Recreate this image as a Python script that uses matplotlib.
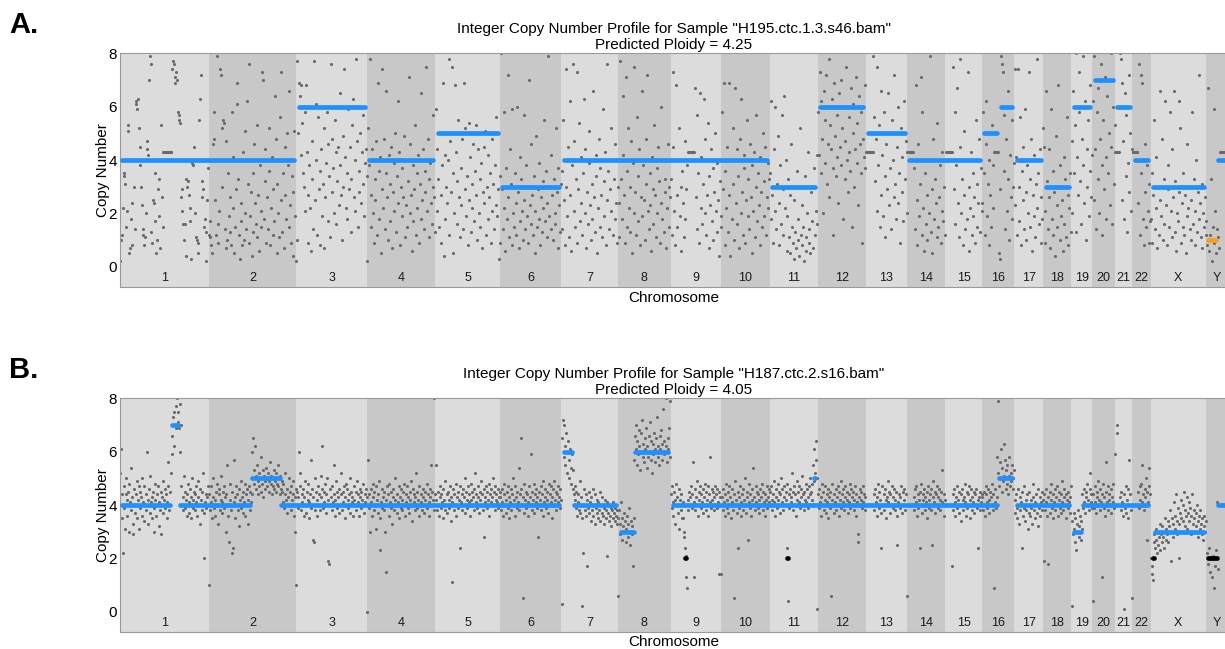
import numpy as np
import matplotlib
matplotlib.use('Agg')
import matplotlib.pyplot as plt

plt.rcParams['font.family'] = ['Liberation Sans', 'DejaVu Sans']

# ---------------- chromosome layout (hg19, Mb) ----------------
chrom_names = ['1', '2', '3', '4', '5', '6', '7', '8', '9', '10', '11', '12', '13', '14',
               '15', '16', '17', '18', '19', '20', '21', '22', 'X', 'Y']
chrom_len_mb = [249.25, 243.2, 198.0, 191.15, 180.9, 171.1, 159.1, 146.4, 141.2, 135.5,
                135.0, 133.9, 115.2, 107.3, 102.5, 90.4, 81.2, 78.1, 59.1, 63.0, 48.1,
                51.3, 155.3, 59.4]

# ---------------- panel A bin copy numbers (x10), evenly spaced along each chromosome ----------------
a_1 = [2,10,12,22,34,35,31,15,21,51,53,5,7,18,24,8,40,30,14,
       62,61,59,63,52,45,38,30,23,14,12,8,11,20,47,44,42,70,79,76,13,9,25,24,35,17,5,10,29,33,19,7,53,26,15,
       43,43,43,43,43,43,43,43,43,43,43,
       74,77,76,71,69,73,70,58,57,55,54,26,29,21,16,10,16,4,33,30,32,27,17,22,3,39,38,40,45,20,11,10,9,5,55,63,72,26,32,29,15,18,2,13,25,37,12]
a_2 = [17,11,8,5,46,48,58,25,12,79,9,16,21,74,72,30,52,55,54,14,7,47,10,35,19,13,26,8,58,41,
       22,5,15,29,69,61,33,12,3,24,17,8,43,10,51,20,14,62,31,9,
       76,19,28,4,35,13,46,24,16,53,11,27,6,38,21,15,73,70,18,44,
       32,9,26,14,52,36,8,22,41,12,29,17,64,48,5,31,20,11,56,25,
       73,13,35,7,45,27,18,50,38,15,66,23,9,34,4,28,51,19,2]
a_3 = [77,10,50,69,64,42,68,54,35,30,21,58,68,43,9,27,38,22,6,47,33,14,77,25,61,40,12,56,29,36,
       8,44,19,31,52,7,26,39,58,17,46,34,11,76,28,48,37,20,55,43,16,32,45,23,65,38,27,10,49,30,
       74,41,22,35,18,59,29,45,13,33,53,63,26,40,21,78,47,15,36,28,50,24,43,31,57,19,39,44,34]
a_4 = [2,52,38,78,15,27,44,20,9,33,25,47,12,69,36,18,41,5,29,74,22,48,14,35,66,26,10,42,31,17,
       45,7,28,39,21,50,13,34,24,62,43,8,30,19,37,26,49,11,23,40,15,32,71,20,46,27,6,38,17,29,
       53,12,35,22,42,9,31,18,65,25,44,14,36,28,75,21,48,11,33,39,24,16,57,30,26,13]
a_5 = [59,44,21,33,15,50,27,9,38,69,4,42,18,30,24,40,78,12,47,28,75,35,5,20,68,43,16,32,55,26,
       11,37,23,48,14,69,29,52,19,34,8,25,54,41,13,31,22,46,17,36,27,53,10,44,20,33,15,39,7,28,
       45,24,51,12,30,18,42,26,35,9,21,48,31,14,38,23,56,19,29,3,34]
a_6 = [9,80,29,14,58,22,6,37,18,72,26,11,44,31,8,59,20,15,35,24,12,60,28,7,41,17,33,21,10,57,
       25,14,38,19,30,9,70,23,16,46,27,12,34,5,21,49,15,29,18,39,8,26,13,32,22,55,17,36,11,24,
       79,19,30,14,42,27,10,33,20,16,52,28,7,37,23,13,31]
a_7 = [36,14,55,25,8,74,30,19,45,11,62,27,6,38,76,21,47,15,33,73,9,29,54,17,41,24,12,35,63,20,
       44,7,28,16,39,51,23,10,31,18,66,26,13,42,34,5,22,48,15,37,27,11,59,32,19,43,8,25,76,36,
       14,29,52,21,40,12,33,18,46,24,9,30]
a_8 = [24,11,77,33,18,64,42,27,9,71,36,15,52,22,30,13,47,5,39,20,75,28,12,56,34,17,44,8,26,66,
       19,38,25,10,48,31,72,21,14,35,23,6,41,29,16,53,27,11,37,20,45,32,9,24,60,18,40,13,28,33,
       7,22,46,15,30,26]
a_9 = [33,12,73,45,21,8,68,27,15,40,52,19,30,6,36,24,11,47,18,29,38,
       43,43,43,43,43,43,43,43,43,
       67,26,14,57,35,9,65,22,41,16,31,63,20,48,12,27,54,34,7,23,44,17,37,10,28,50,21,13,39,25,4,32,19]
a_10 = [15,58,29,69,8,36,22,45,13,69,27,4,40,18,52,31,10,67,24,44,16,34,7,48,20,63,28,12,42,37,
        9,25,55,19,33,14,46,26,5,38,21,43,11,30,57,17,35,23,8,41,28,15,50,32,19,45,12,26,39,22,33]
a_11 = [35,18,62,27,9,44,21,60,14,31,49,24,8,38,16,57,29,12,64,22,40,6,19,33,11,27,5,46,15,9,
        25,3,13,7,36,18,10,4,52,12,8,23,15,2,34,11,6,20,43,9,14,5,28,17,30,7,37,12,21,16,42]
a_12 = [58,42,73,35,62,48,20,66,39,55,72,31,46,78,26,53,44,63,37,12,69,49,34,57,41,24,65,45,38,70,
        52,18,60,33,47,75,40,28,56,43,36,67,15,50,61,30,44,71,39,54,23,64,46,35,58,9,48,41,68,37]
a_13 = [43,43,43,43,43,43,43,43,43,
        79,56,32,48,21,75,38,53,15,27,66,42,19,58,34,11,46,29,65,23,50,37,14,55,40,26,72,31,18,45,
        60,24,35,9,52,28,41,17,62,33,47,20]
a_14 = [43,43,43,43,43,43,43,43,
        37,14,68,25,8,46,19,31,71,12,58,22,6,35,16,27,10,40,20,79,13,29,5,48,18,33,24,11,54,15,
        26,38,9,21,43,17,30,12]
a_15 = [43,43,43,43,43,43,43,43,43,
        75,29,58,16,38,67,24,11,45,78,20,33,8,51,27,14,40,18,73,30,6,22,43,12,35,19,26,9,55,31,
        15,24,48,13,37,21]
a_16 = [24,58,35,12,46,62,19,31,8,40,27,15,53,22,38,43,43,43,43,43,43,5,3,29,79,76,73,57,36,14,
        48,21,33,66,10,42,26,55,18,30,39]
a_17 = [74,23,41,12,74,30,17,56,8,36,25,45,14,59,28,10,38,20,73,33,15,48,6,27,19,42,11,31,78,22,
        35,16,44,9,26,18,52]
a_18 = [45,21,9,66,32,14,44,26,7,59,18,36,12,28,4,49,23,15,68,30,10,38,19,25,6,41,16,33,11,56,
        27,8,22,35,13]
a_19 = [47,20,66,35,53,13,80,41,27,73,58,32,16,48,79,38,24,62,10,44,30,55,19,36,68,26,42]
a_20 = [62,25,79,44,14,58,33,67,20,48,76,38,12,55,29,71,41,18,64,35,50,23,80,45,16,60,31,53]
a_21 = [43,43,43,43,43,43,80,78,25,69,47,18,65,34,57,13,39,72,28,50,21,44]
a_22 = [43,43,43,43,43,43,43,24,76,12,72,35,69,18,8,46,28,15,38,21,9,31,17]
a_X = [18,35,9,27,55,14,22,41,7,30,12,66,25,19,48,10,33,16,62,23,8,29,38,15,58,21,11,44,26,66,
       13,32,6,20,17,62,28,52,9,24,15,35,12,27,5,19,46,22,30,14,10,25,58,16,33,8,21,40,13,28,
       18,72,24,11,31,7,20,15,26,12]
a_Y = [17,8,67,6,12,33,2,15,9,59,21,5,14,11,7,43,43,43,43,43,43,43,43,43]

# ---------------- panel B bin copy numbers (x10) ----------------
b_1 = [52,61,44,35,22,47,39,31,44,50,42,36,45,30,48,41,38,54,43,33,29,46,40,37,44,49,35,42,47,31,
       39,45,43,50,36,41,34,47,40,44,38,60,42,33,46,37,51,41,35,43,45,30,39,48,42,36,44,40,47,32,
       41,38,45,29,43,49,37,42,46,39,44,35,41,56,47,38,40,45,
       52,66,59,73,75,62,70,77,69,80,71,75,69,78,60,70,
       47,40,43,38,51,45,39,42,36,44,48,41,37,46,43,35,50,42,39,45,44,38,47,41,36,43,49,40,33,46,
       42,38,45,52,20,37,41,44,39,43,47,40,10]
b_2 = [44,38,41,47,35,43,50,39,42,36,45,48,40,33,44,46,38,42,51,37,41,45,39,47,43,30,44,55,40,36,
       26,42,48,38,22,45,24,41,57,43,35,47,40,44,38,46,32,42,49,39,43,37,45,41,48,36,44,40,46,33,
       42,47,38,45,41,44,
       60,65,53,48,62,51,46,55,49,44,52,47,50,45,58,48,53,43,51,49,46,54,50,47,52,45,49,56,48,51,
       44,50,47,53,46,49,52,45,48,55,47,50,44,51,46,49,
       45,41,48,39,44,52,42,37,46,43,50,40,45,38,47,42,44,49,36,43,30,46]
b_3 = [10,45,39,43,60,47,52,38,44,41,46,36,43,49,40,37,45,42,48,35,41,44,57,39,46,27,43,26,50,38,
       45,42,36,47,40,44,38,51,43,46,62,39,45,41,48,37,44,50,42,19,18,40,46,43,38,47,41,55,44,36,
       42,49,45,39,43,37,46,40,52,44,38,45,41,47,35,43,48,40,46,42,39,44,50,37,45,41,43,36,47,42,
       40,45,38,49,44,41,36,46,43,39,45,42,48,40,37,44,41,46,43]
b_4 = [0,57,44,39,30,46,41,36,48,43,38,45,40,31,47,42,37,44,49,35,23,41,46,39,43,38,45,30,42,15,
       47,40,44,36,48,41,39,45,33,43,46,38,42,50,40,37,44,41,47,35,43,39,46,42,38,45,40,48,36,44,
       41,47,39,43,37,45,42,49,40,34,46,41,44,38,43,52,39,45,42,36,47,40,44,41,38,46,43,37,45,42,
       40,48,39,44,41,36,46,43,55,40,45,42,38,80,44]
b_5 = [55,42,38,45,40,36,47,43,39,44,41,35,46,42,38,49,40,44,37,45,42,39,47,34,43,41,11,46,38,44,
       40,48,36,43,45,39,42,24,47,41,44,38,46,40,43,50,37,45,42,39,47,41,44,36,48,42,45,40,43,38,
       46,52,41,44,39,47,43,37,45,42,49,40,44,38,46,28,43,41,47,39,45,42,48,36,44,41,46,43,50,40,
       45,38,47,42,44,41,39,46,43,45]
b_6 = [43,38,46,41,36,44,48,40,42,37,45,39,47,43,35,41,46,38,44,50,40,42,36,47,43,39,45,41,54,38,
       44,46,65,40,5,43,37,48,42,45,39,44,41,36,47,43,40,59,38,45,42,48,37,44,41,46,39,43,28,40,
       45,42,47,38,44,36,49,41,43,46,39,42,45,37,48,40,44,41,47,35,43,46,40,49,42,45,38,44,41,47,
       43,39,46,42]
b_7 = [3,65,72,58,70,62,55,67,60,52,64,57,50,61,54,48,59,46,53,44,42,47,39,45,36,41,44,38,49,37,
       43,35,2,22,46,40,38,44,36,42,17,39,45,37,41,34,43,38,46,36,40,33,44,39,37,42,35,41,38,45,
       34,40,37,43,36,39,33,42,38,35,41,21,37,34,40,36,39,32,38,35,41,37,34,39,36,33,38,35]
b_8 = [6,38,33,29,41,35,27,32,37,30,34,26,31,36,28,33,39,30,25,34,29,32,17,35,
       57,66,61,70,55,64,59,68,62,53,67,60,72,58,63,56,65,61,69,54,62,58,66,60,71,57,64,52,63,59,
       67,61,56,65,60,73,58,62,55,66,61,68,57,63,76,59,64,60,80,62,56,65,61,69,58,79]
b_9 = [44,39,47,41,36,45,42,33,48,40,43,37,46,31,42,38,44,35,41,
       35,30,28,24,21,13,9,42,38,
       45,40,43,47,39,44,56,13,41,46,38,43,49,40,36,45,42,47,39,44,41,37,46,43,48,40,45,38,42,47,
       36,44,41,58,39,46,42,45,38,43,47,40,44,39,46,41,14,45,43,40]
b_10 = [14,43,38,46,41,36,44,48,39,42,45,37,47,40,43,35,46,41,38,5,44,49,40,42,37,24,45,39,43,47,
        36,41,44,38,46,42,50,40,37,45,43,27,48,41,39,44,36,46,42,54,40,43,38,47,41,45,39,44,37,42,
        46,40,43,48,38,45,41,36,44,42,47,39,43,41,46]
b_11 = [45,40,47,42,38,44,49,41,36,46,43,39,48,42,45,37,44,50,41,46,38,43,47,40,45,42,24,48,4,44,
        39,46,41,43,52,38,45,47,40,44,36,49,42,45,41,47,39,43,46,40,51,44,38,45,42,48,41,46,43,39,
        47,44,50,45,42,48,55,49,61,52,64,57,50,1]
b_12 = [44,39,46,41,36,43,48,40,45,38,42,47,37,44,41,35,46,43,39,45,6,42,48,40,37,44,41,46,38,43,
        47,40,45,36,42,49,39,44,41,46,38,43,47,40,45,42,37,44,41,48,39,46,43,40,45,38,42,47,36,44,
        41,26,29,43,40,46,42,45,39,47,41,44,38,43]
b_13 = [40,40,40,40,40,40,40,40,40,40,40,
        44,38,46,41,36,43,48,45,39,42,37,24,47,40,44,38,46,42,35,43,49,41,45,37,44,40,47,39,43,46,
        38,42,45,36,25,41,44,39,43,47,40,37,45,42,46,38,44,6]
b_14 = [40,40,40,40,40,40,40,40,40,40,43,38,46,41,47,36,44,39,42,24,45,48,40,37,44,42,46,38,43,41,
        35,45,47,39,42,44,38,46,25,43,49,41,45,37,44,40,47,39,43,46,42,38,45,41,53,40,44,36,42]
b_15 = [40,40,40,40,40,40,40,40,40,40,17,44,38,46,41,36,43,47,39,42,45,37,40,44,34,46,42,38,43,48,
        41,36,45,39,44,40,47,35,42,46,38,43,41,45,37,44,40,46,39,42,24,43,38,45,41,44]
b_16 = [43,38,45,40,36,44,47,41,39,46,42,37,45,40,43,48,38,44,9,41,46,39,58,43,79,
        52,47,56,50,61,45,54,49,63,51,57,46,53,48,55,44,51,58,47,52,49,55,46,50,53]
b_17 = [42,37,44,39,35,46,40,33,43,38,41,24,45,36,39,47,34,42,38,44,31,40,37,45,36,42,39,33,43,48,
        38,41,35,44,40,37,46,32,39,43,36,41,45,38,42]
b_18 = [19,44,38,46,41,36,43,18,40,45,37,42,48,39,44,35,41,46,38,43,40,47,36,42,45,39,44,37,41,49,
        38,43,46,40,35,44,42,39,45,41,37,43,47]
b_19 = [2,34,29,37,31,26,35,23,33,30,38,28,32,36,27,34,31,44,39,46,41,37,45,43,48,40,42,38,46,52,
        41,44,39]
b_20 = [4,44,39,47,41,37,45,43,49,40,42,38,46,41,13,44,48,39,43,36,56,45,41,47,38,44,42,40,46,37,
        43,48,41,39,59]
b_21 = [40,40,70,67,40,40,40,43,38,45,41,36,1,44,39,47,37,42,46,35,57,40,44,38,5]
b_22 = [40,40,40,40,40,40,40,40,45,39,47,42,48,41,55,44,38,46,43,50,27,45,41,47,54,44]
b_X = [20,17,14,12,26,29,24,31,27,22,30,25,28,33,23,29,26,32,28,24,30,35,27,31,29,34,26,32,38,30,
       19,35,28,33,41,36,31,44,34,29,39,33,20,37,42,35,30,40,34,45,38,32,36,43,31,37,41,34,39,29,
       36,44,33,38,35,30,37,32,40,34,28,36,31,38,33,29,35,27,32,36,30,34]
b_Y = [22,18,24,15,20,13,21,9,17,23,41,16,40,40,40,40,40,40,40,40]

# ---------------- segments (chromosome, start Mb, end Mb, copy number, colour) ----------------
a_seg_chrom = ['1','2','3','4','5','6','7','8','9','10','11','12','13','14','15','16','16','16',
               '17','18','19','20','21','22','X','Y','Y']
a_seg_start = [0,0,0,0,0,0,0,0,0,0,0,0,0,0,0,0,47.7,40,0,0,0,0,0,0,0,0,28]
a_seg_end = [249.25,243.2,198.0,191.15,180.9,171.1,159.1,146.4,141.2,135.5,135.0,133.9,115.2,107.3,
             102.5,47.7,90.4,53,81.2,78.1,59.1,63.0,48.1,51.3,155.3,34,59.4]
a_seg_cn = [4,4,6,4,5,3,4,4,4,4,3,6,5,4,4,5,6,1,4,3,6,7,6,4,3,1,4]
a_seg_col = ['blue']*17 + ['orange'] + ['blue']*7 + ['orange', 'blue']

b_seg_chrom = ['1','1','1','2','2','2','3','4','5','6','7','7','8','8','9','9','10','11','11','11',
               '12','13','14','15','16','16','17','18','19','19','20','21','22','X','X','Y','Y']
b_seg_start = [0,140,162,0,114,195,0,0,0,0,0,30,0,41,0,35,0,0,119,43,0,0,0,0,0,40,0,0,0,25,0,0,0,
               0,7,0,28]
b_seg_end = [145,170,249.25,120,204,243.2,198.0,191.15,180.9,171.1,38,159.1,50,146.4,141.2,49,135.5,
             135.0,135.0,57,133.9,115.2,107.3,102.5,47.7,90.4,81.2,78.1,33,59.1,63.0,48.1,51.3,15,
             155.3,37,59.4]
b_seg_cn = [4,7,4,4,5,4,4,4,4,4,6,4,3,6,4,2,4,4,5,2,4,4,4,4,4,5,4,4,3,4,4,4,4,2,3,2,4]
b_seg_col = (['blue']*15 + ['black'] + ['blue']*3 + ['black'] + ['blue']*13 + ['black', 'blue',
             'black', 'blue'])

a_title = ['Integer Copy Number Profile for Sample "H195.ctc.1.3.s46.bam"', 'Predicted Ploidy = 4.25']
b_title = ['Integer Copy Number Profile for Sample "H187.ctc.2.s16.bam"', 'Predicted Ploidy = 4.05']

a_points = [a_1, a_2, a_3, a_4, a_5, a_6, a_7, a_8, a_9, a_10, a_11, a_12, a_13, a_14, a_15, a_16,
            a_17, a_18, a_19, a_20, a_21, a_22, a_X, a_Y]
b_points = [b_1, b_2, b_3, b_4, b_5, b_6, b_7, b_8, b_9, b_10, b_11, b_12, b_13, b_14, b_15, b_16,
            b_17, b_18, b_19, b_20, b_21, b_22, b_X, b_Y]

# ---------------- styling ----------------
W, H, DPI = 1225, 649, 100
band_light = '#dcdcdc'
band_dark = '#c8c8c8'
point_col = '#6a6a6a'
seg_colors = {'blue': '#1e90ff', 'orange': '#f5a01a', 'black': '#000000'}
seg_lw = 3.4

fig = plt.figure(figsize=(W / DPI, H / DPI), dpi=DPI)
fig.patch.set_facecolor('white')

ax_left_px, ax_right_px = 120, 1227.3
offsets = np.concatenate([[0], np.cumsum(chrom_len_mb)[:-1]])
total = float(np.sum(chrom_len_mb))
name_idx = {n: i for i, n in enumerate(chrom_names)}


def merged_segments(seg_chrom, seg_start, seg_end, seg_cn, seg_col):
    """Genome-coordinate segments; adjacent pieces with equal value/colour are joined."""
    segs = []
    for c, s, e, cn, col in zip(seg_chrom, seg_start, seg_end, seg_cn, seg_col):
        off = offsets[name_idx[c]]
        segs.append([off + s, off + e, cn, col])
    out = []
    for sg in segs:
        joined = False
        for o in out:
            if o[2] == sg[2] and o[3] == sg[3] and abs(o[1] - sg[0]) < 1e-6:
                o[1] = sg[1]
                joined = True
                break
        if not joined:
            out.append(list(sg))
    return out


def draw_panel(top_px, bottom_px, points, seg_chrom, seg_start, seg_end, seg_cn, seg_col,
               title, label):
    ax = fig.add_axes([ax_left_px / W, (H - bottom_px) / H,
                       (ax_right_px - ax_left_px) / W, (bottom_px - top_px) / H])
    ax.set_xlim(0, total)
    ax.set_ylim(-0.77, 8)
    for i, (name, L) in enumerate(zip(chrom_names, chrom_len_mb)):
        ax.axvspan(offsets[i], offsets[i] + L, color=band_light if i % 2 == 0 else band_dark,
                   lw=0, zorder=0)
        ax.text(offsets[i] + L / 2, -0.41, name, ha='center', va='center', fontsize=9,
                color='#1a1a1a', zorder=5)
    xs, ys = [], []
    for i, vals in enumerate(points):
        n = len(vals)
        xs.append(offsets[i] + (np.arange(n) + 0.5) / n * chrom_len_mb[i])
        ys.append(np.asarray(vals, dtype=float) / 10.0)
    ax.scatter(np.concatenate(xs), np.concatenate(ys), s=5, c=point_col, linewidths=0, zorder=2)

    # segment lines (round caps kept inside the segment span)
    ax_w_px = ax_right_px - ax_left_px
    half = seg_lw * DPI / 72 / 2 * total / ax_w_px
    order = {'blue': 0, 'orange': 1, 'black': 1}
    segs = merged_segments(seg_chrom, seg_start, seg_end, seg_cn, seg_col)
    for s, e, cn, col in sorted(segs, key=lambda q: order[q[3]]):
        x0, x1 = s + half, e - half
        if x1 <= x0:
            m = (s + e) / 2
            x0, x1 = m - 0.01, m + 0.01
        ax.plot([x0, x1], [cn, cn], color=seg_colors[col], lw=seg_lw, solid_capstyle='round',
                zorder=3)

    ax.set_xticks([])
    ax.set_yticks([0, 2, 4, 6, 8])
    ax.tick_params(axis='y', length=0, pad=2, labelsize=11)
    for sp in ax.spines.values():
        sp.set_color('#9a9a9a')
        sp.set_linewidth(0.8)

    cx = (ax_left_px + ax_right_px) / 2 / W
    fig.text(cx, (H - (top_px - 20)) / H, title[0], ha='center', va='baseline', fontsize=11)
    fig.text(cx, (H - (top_px - 4)) / H, title[1], ha='center', va='baseline', fontsize=11)
    fig.text(cx, (H - (bottom_px + 14.2)) / H, 'Chromosome', ha='center', va='baseline', fontsize=11)
    fig.text(102.5 / W, (H - (top_px + bottom_px) / 2) / H, 'Copy Number', rotation=90,
             ha='center', va='center', fontsize=11)
    fig.text(9 / W, (H - (top_px - 20)) / H, label, ha='left', va='baseline', fontsize=21,
             fontweight='bold')
    return ax


draw_panel(53.3, 287.3, a_points, a_seg_chrom, a_seg_start, a_seg_end, a_seg_cn, a_seg_col,
           a_title, 'A.')
draw_panel(398.3, 632.3, b_points, b_seg_chrom, b_seg_start, b_seg_end, b_seg_cn, b_seg_col,
           b_title, 'B.')

fig.savefig('out.png', dpi=DPI)
